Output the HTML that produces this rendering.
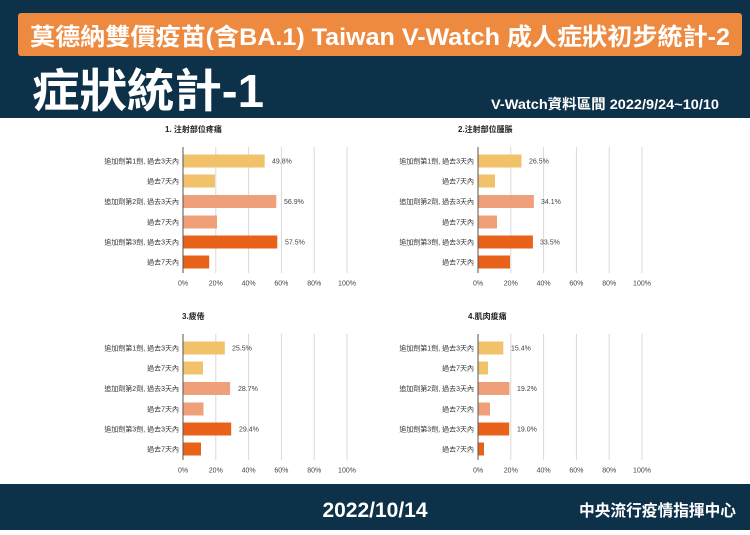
<!DOCTYPE html>
<html><head><meta charset="utf-8"><style>
html,body{margin:0;padding:0;}
body{width:750px;height:530px;overflow:hidden;background:#fff;font-family:"Liberation Sans","Noto Sans CJK TC",sans-serif;}
</style></head><body>
<svg width="750" height="530" xmlns="http://www.w3.org/2000/svg" font-family="Liberation Sans, Noto Sans CJK TC, sans-serif">
<rect x="0" y="0" width="750" height="118" fill="#0d3149"/>
<rect x="18" y="13" width="724" height="43" rx="3" fill="#ee8a40"/>
<text x="380" y="45" text-anchor="middle" font-size="24" font-weight="bold" fill="#fff" textLength="700" lengthAdjust="spacingAndGlyphs">莫德納雙價疫苗(含BA.1) Taiwan V-Watch 成人症狀初步統計-2</text>
<text x="32" y="107" font-size="46" font-weight="bold" fill="#fff" textLength="232" lengthAdjust="spacingAndGlyphs">症狀統計-1</text>
<text x="719" y="109" text-anchor="end" font-size="14" font-weight="bold" fill="#fff" textLength="228" lengthAdjust="spacingAndGlyphs">V-Watch資料區間 2022/9/24~10/10</text>
<rect x="0" y="484" width="750" height="46" fill="#0d3149"/>
<text x="375" y="517" text-anchor="middle" font-size="21" font-weight="bold" fill="#fff">2022/10/14</text>
<text x="736" y="516" text-anchor="end" font-size="16" font-weight="bold" fill="#fff" textLength="157" lengthAdjust="spacingAndGlyphs">中央流行疫情指揮中心</text>

<defs>
<g id="grid" stroke="#d8d8d8" stroke-width="1">
<line x1="32.8" y1="-14" x2="32.8" y2="112"/><line x1="65.6" y1="-14" x2="65.6" y2="112"/>
<line x1="98.4" y1="-14" x2="98.4" y2="112"/><line x1="131.2" y1="-14" x2="131.2" y2="112"/>
<line x1="164" y1="-14" x2="164" y2="112"/>
</g>
<g id="labels" font-size="7" fill="#333" text-anchor="end">
<text x="-4" y="2.5">追加劑第1劑, 過去3天內</text>
<text x="-4" y="22.5">過去7天內</text>
<text x="-4" y="43">追加劑第2劑, 過去3天內</text>
<text x="-4" y="63.5">過去7天內</text>
<text x="-4" y="83.5">追加劑第3劑, 過去3天內</text>
<text x="-4" y="103.5">過去7天內</text>
</g>
<g id="ticks" font-size="7" fill="#444" text-anchor="middle">
<text x="0" y="124.5">0%</text><text x="32.8" y="124.5">20%</text><text x="65.6" y="124.5">40%</text>
<text x="98.4" y="124.5">60%</text><text x="131.2" y="124.5">80%</text><text x="164" y="124.5">100%</text>
</g>
</defs>

<!-- Chart 1 -->
<g transform="translate(183,161)">
<use href="#grid"/><use href="#labels"/><use href="#ticks"/>
<text x="-18" y="-29" font-size="8" font-weight="bold" fill="#222">1. 注射部位疼痛</text>
<rect x="0" y="-6.5" width="81.7" height="13" fill="#f2c26b"/>
<rect x="0" y="13.5" width="32" height="13" fill="#f2c26b"/>
<rect x="0" y="34" width="93.3" height="13" fill="#f0a078"/>
<rect x="0" y="54.5" width="34" height="13" fill="#f0a078"/>
<rect x="0" y="74.5" width="94.3" height="13" fill="#e8621a"/>
<rect x="0" y="94.5" width="26.2" height="13" fill="#e8621a"/>
<g font-size="7" fill="#444"><text x="89" y="2.5">49.8%</text><text x="101" y="43">56.9%</text><text x="102" y="83.5">57.5%</text></g>
<line x1="0" y1="-14" x2="0" y2="112" stroke="#555"/>
</g>

<!-- Chart 2 -->
<g transform="translate(478,161)">
<use href="#grid"/><use href="#labels"/><use href="#ticks"/>
<text x="-20" y="-29" font-size="8" font-weight="bold" fill="#222">2.注射部位腫脹</text>
<rect x="0" y="-6.5" width="43.5" height="13" fill="#f2c26b"/>
<rect x="0" y="13.5" width="17" height="13" fill="#f2c26b"/>
<rect x="0" y="34" width="55.9" height="13" fill="#f0a078"/>
<rect x="0" y="54.5" width="19" height="13" fill="#f0a078"/>
<rect x="0" y="74.5" width="54.9" height="13" fill="#e8621a"/>
<rect x="0" y="94.5" width="32" height="13" fill="#e8621a"/>
<g font-size="7" fill="#444"><text x="51" y="2.5">26.5%</text><text x="63" y="43">34.1%</text><text x="62" y="83.5">33.5%</text></g>
<line x1="0" y1="-14" x2="0" y2="112" stroke="#555"/>
</g>

<!-- Chart 3 -->
<g transform="translate(183,348)">
<use href="#grid"/><use href="#labels"/><use href="#ticks"/>
<text x="-1" y="-29" font-size="8" font-weight="bold" fill="#222">3.疲倦</text>
<rect x="0" y="-6.5" width="41.8" height="13" fill="#f2c26b"/>
<rect x="0" y="13.5" width="20" height="13" fill="#f2c26b"/>
<rect x="0" y="34" width="47.1" height="13" fill="#f0a078"/>
<rect x="0" y="54.5" width="20.5" height="13" fill="#f0a078"/>
<rect x="0" y="74.5" width="48.2" height="13" fill="#e8621a"/>
<rect x="0" y="94.5" width="18" height="13" fill="#e8621a"/>
<g font-size="7" fill="#444"><text x="49" y="2.5">25.5%</text><text x="55" y="43">28.7%</text><text x="56" y="83.5">29.4%</text></g>
<line x1="0" y1="-14" x2="0" y2="112" stroke="#555"/>
</g>

<!-- Chart 4 -->
<g transform="translate(478,348)">
<use href="#grid"/><use href="#labels"/><use href="#ticks"/>
<text x="-10" y="-29" font-size="8" font-weight="bold" fill="#222">4.肌肉痠痛</text>
<rect x="0" y="-6.5" width="25.3" height="13" fill="#f2c26b"/>
<rect x="0" y="13.5" width="10" height="13" fill="#f2c26b"/>
<rect x="0" y="34" width="31.5" height="13" fill="#f0a078"/>
<rect x="0" y="54.5" width="12" height="13" fill="#f0a078"/>
<rect x="0" y="74.5" width="31.2" height="13" fill="#e8621a"/>
<rect x="0" y="94.5" width="6" height="13" fill="#e8621a"/>
<g font-size="7" fill="#444"><text x="33" y="2.5">15.4%</text><text x="39" y="43">19.2%</text><text x="39" y="83.5">19.0%</text></g>
<line x1="0" y1="-14" x2="0" y2="112" stroke="#555"/>
</g>
</svg>
</body></html>
